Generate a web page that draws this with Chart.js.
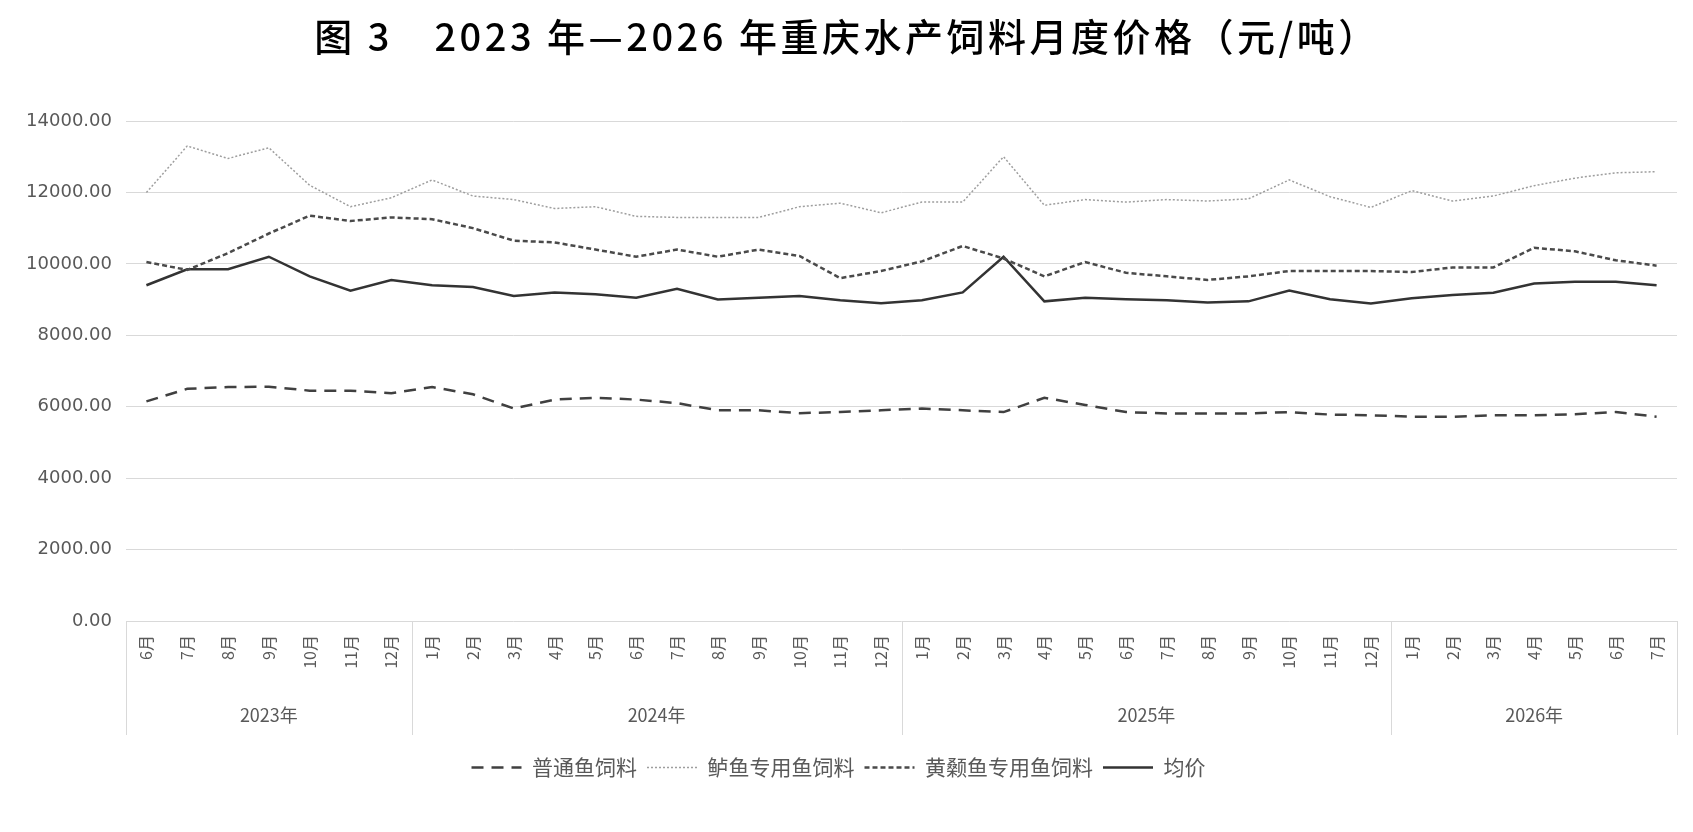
<!DOCTYPE html>
<html>
<head>
<meta charset="utf-8">
<script src="https://cdn.jsdelivr.net/npm/chart.js@4.4.1/dist/chart.umd.min.js"></script>
<style>
  html, body { margin: 0; padding: 0; background: #fff; }
</style>
</head>
<body>
<canvas id="feedChart" width="1693" height="832"></canvas>
<script>
// 月份（横轴第一层）和年份（横轴第二层）
const months = [
  '6月', '7月', '8月', '9月', '10月', '11月', '12月',
  '1月', '2月', '3月', '4月', '5月', '6月', '7月', '8月', '9月', '10月', '11月', '12月',
  '1月', '2月', '3月', '4月', '5月', '6月', '7月', '8月', '9月', '10月', '11月', '12月',
  '1月', '2月', '3月', '4月', '5月', '6月', '7月'
];
const years = ['2023年', '2024年', '2025年', '2026年'];
const yearSpans = [7, 12, 12, 7];

const yMax = 14000;
const yStep = 2000;

// 各系列价格（元/吨）
const commonFeed = [
  6150, 6500, 6550, 6560, 6450, 6450, 6380,
  6550, 6350, 5950, 6200, 6250, 6200, 6100, 5900, 5900, 5820, 5850, 5900,
  5950, 5900, 5850, 6250, 6050, 5850, 5810, 5810, 5810, 5850, 5780, 5760,
  5720, 5720, 5760, 5760, 5790, 5850, 5720
];
const perchFeed = [
  12000, 13300, 12950, 13250, 12200, 11600, 11850,
  12350, 11900, 11800, 11550, 11600, 11330, 11300, 11300, 11300, 11600, 11700, 11430,
  11730, 11730, 13000, 11640, 11800, 11730, 11800, 11760, 11820, 12350, 11880, 11580,
  12050, 11760, 11900, 12190, 12400, 12550, 12580
];
const catfishFeed = [
  10050, 9830, 10300, 10850, 11350, 11200, 11300,
  11250, 11000, 10650, 10600, 10400, 10200, 10400, 10200, 10400, 10220, 9600, 9800,
  10070, 10500, 10150, 9650, 10050, 9750, 9650, 9550, 9650, 9800, 9800, 9800,
  9770, 9900, 9900, 10450, 10350, 10100, 9950
];
const avgPrice = [
  9400, 9850, 9850, 10200, 9650, 9250, 9550,
  9400, 9350, 9100, 9200, 9150, 9050, 9300, 9000, 9050, 9100, 8980, 8900,
  8980, 9200, 10200, 8950, 9050, 9010, 8980, 8920, 8950, 9250, 9010, 8890,
  9040, 9130, 9190, 9450, 9500, 9500, 9400
];

const textGray = '#595959';
const gridGray = '#d9d9d9';

// 标题单独绘制（带一点字间距）
const titlePlugin = {
  id: 'titlePlugin',
  afterDraw(chart) {
    const ctx = chart.ctx;
    ctx.save();
    ctx.font = '500 38px "Noto Sans CJK SC"';
    ctx.fillStyle = '#000';
    ctx.textAlign = 'center';
    ctx.textBaseline = 'middle';
    ctx.letterSpacing = '3.5px';
    ctx.fillText('图 3　2023 年—2026 年重庆水产饲料月度价格（元/吨）', 847, 37);
    ctx.restore();
  }
};

// 年份分组标签和分隔线
const yearAxisPlugin = {
  id: 'yearAxis',
  afterDraw(chart) {
    const ctx = chart.ctx;
    const x = chart.scales.x;
    const step = x.getPixelForValue(1) - x.getPixelForValue(0);
    const top = x.top;
    const bottom = top + 114;
    ctx.save();
    ctx.strokeStyle = gridGray;
    ctx.lineWidth = 1;
    ctx.fillStyle = textGray;
    ctx.font = '18px "Noto Sans CJK SC"';
    ctx.textAlign = 'center';
    ctx.textBaseline = 'middle';
    let start = 0;
    years.forEach((yr, i) => {
      const left = x.getPixelForValue(start) - step / 2;
      const right = x.getPixelForValue(start + yearSpans[i] - 1) + step / 2;
      ctx.beginPath();
      ctx.moveTo(Math.round(left) + 0.5, top);
      ctx.lineTo(Math.round(left) + 0.5, bottom);
      if (i === years.length - 1) {
        ctx.moveTo(Math.round(right) + 0.5, top);
        ctx.lineTo(Math.round(right) + 0.5, bottom);
      }
      ctx.stroke();
      ctx.fillText(yr, (left + right) / 2, top + 94);
      start += yearSpans[i];
    });
    ctx.restore();
  }
};

const ctx = document.getElementById('feedChart').getContext('2d');
const feedChart = new Chart(ctx, {
  type: 'line',
  data: {
    labels: months,
    datasets: [
      {
        label: '普通鱼饲料',
        data: commonFeed,
        borderColor: '#404040',
        backgroundColor: '#404040',
        borderWidth: 2.5,
        borderDash: [12, 8]
      },
      {
        label: '鲈鱼专用鱼饲料',
        data: perchFeed,
        borderColor: '#9e9e9e',
        backgroundColor: '#9e9e9e',
        borderWidth: 1.5,
        borderDash: [2, 2]
      },
      {
        label: '黄颡鱼专用鱼饲料',
        data: catfishFeed,
        borderColor: '#4a4a4a',
        backgroundColor: '#4a4a4a',
        borderWidth: 2.5,
        borderDash: [5, 3]
      },
      {
        label: '均价',
        data: avgPrice,
        borderColor: '#333333',
        backgroundColor: '#333333',
        borderWidth: 2.5
      }
    ]
  },
  options: {
    responsive: false,
    animation: false,
    elements: {
      point: { radius: 0 },
      line: { tension: 0, fill: false }
    },
    layout: {
      padding: { top: 121, right: 16, bottom: 44, left: 0 }
    },
    plugins: {
      title: { display: false },
      tooltip: { enabled: false },
      legend: {
        position: 'bottom',
        labels: {
          color: textGray,
          font: { family: '"Noto Sans CJK SC"', size: 21 },
          usePointStyle: true,
          pointStyle: 'line',
          pointStyleWidth: 50,
          boxHeight: 21,
          padding: 10,
          // 图例线型沿用各系列的虚线样式
          generateLabels(chart) {
            const items = Chart.defaults.plugins.legend.labels.generateLabels(chart);
            items.forEach(item => {
              const ds = chart.data.datasets[item.datasetIndex];
              item.lineDash = ds.borderDash || [];
              item.strokeStyle = ds.borderColor;
              item.lineWidth = ds.borderWidth;
              item.pointStyle = 'line';
            });
            return items;
          }
        }
      }
    },
    scales: {
      x: {
        offset: true,
        grid: { display: false },
        border: { display: false },
        ticks: {
          autoSkip: false,
          maxRotation: 90,
          minRotation: 90,
          padding: 6,
          color: textGray,
          font: { family: '"Noto Sans CJK SC"', size: 16 }
        },
        afterFit(scale) { scale.height = 126; }
      },
      y: {
        min: 0,
        max: yMax,
        border: { display: false },
        grid: { color: gridGray, drawTicks: false },
        ticks: {
          stepSize: yStep,
          padding: 14,
          color: textGray,
          font: { family: '"DejaVu Sans"', size: 18 },
          callback: v => v.toFixed(2)
        },
        afterFit(scale) { scale.width = 126; }
      }
    }
  },
  plugins: [titlePlugin, yearAxisPlugin]
});
</script>
</body>
</html>
